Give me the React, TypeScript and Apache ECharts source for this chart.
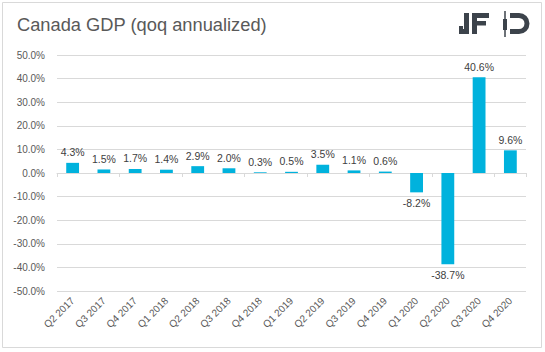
import React, { useEffect, useRef } from "react";
import * as echarts from "echarts";

const categories = [
  "Q2 2017", "Q3 2017", "Q4 2017", "Q1 2018", "Q2 2018", "Q3 2018", "Q4 2018",
  "Q1 2019", "Q2 2019", "Q3 2019", "Q4 2019", "Q1 2020", "Q2 2020", "Q3 2020", "Q4 2020",
];
const gdpValues = [4.3, 1.5, 1.7, 1.4, 2.9, 2.0, 0.3, 0.5, 3.5, 1.1, 0.6, -8.2, -38.7, 40.6, 9.6];
const titleText = "Canada GDP (qoq annualized)";

const FONT = "'Liberation Sans', Arial, sans-serif";

export default function App() {
  const ref = useRef<HTMLDivElement>(null);
  useEffect(() => {
    document.body.style.margin = "0";
    if (!ref.current) return;
    echarts.graphic.registerShape(
      "jfdD",
      echarts.graphic.extendPath(
        "M0 0 H9 A10.5 10.5 0 0 1 9 21 H0 V16 H9 A5.5 5.5 0 0 0 9 5 H0 Z",
        {}
      )
    );
    const chart = echarts.init(ref.current, null, { renderer: "svg" });
    const logoColor = "#3c434b";
    chart.setOption({
      animation: false,
      backgroundColor: "#ffffff",
      grid: { left: 57, right: 19, top: 55, bottom: 61 },
      xAxis: [
        {
          type: "category",
          data: categories,
          position: "bottom",
          axisLine: { show: false, onZero: false },
          axisTick: { show: false },
          axisLabel: {
            rotate: 45,
            color: "#595959",
            fontSize: 10,
            fontFamily: FONT,
            margin: 8,
            interval: 0,
          },
        },
        {
          type: "category",
          data: categories,
          position: "bottom",
          axisLine: { show: true, onZero: true, lineStyle: { color: "#d9d9d9", width: 1 } },
          axisTick: { show: true, length: 4, lineStyle: { color: "#d9d9d9" } },
          axisLabel: { show: false },
          splitLine: { show: false },
        },
      ],
      yAxis: {
        type: "value",
        min: -50,
        max: 50,
        interval: 10,
        axisLine: { show: false },
        axisTick: { show: false },
        axisLabel: {
          formatter: (v: number) => v.toFixed(1) + "%",
          color: "#595959",
          fontSize: 10,
          fontFamily: FONT,
          margin: 12,
        },
        splitLine: { lineStyle: { color: "#d9d9d9", width: 1 } },
      },
      series: [
        {
          type: "bar",
          xAxisIndex: 0,
          data: gdpValues.map((v) => ({
            value: v,
            label: { position: v < 0 ? "bottom" : "top" },
          })),
          barWidth: "41%",
          itemStyle: { color: "#00b2dd" },
          label: {
            show: true,
            formatter: (p: any) => p.value.toFixed(1) + "%",
            color: "#404040",
            fontSize: 10.5,
            fontFamily: FONT,
            distance: 5,
          },
        },
      ],
      graphic: [
        {
          type: "rect",
          shape: { x: 2.5, y: 2.5, width: 539, height: 345 },
          style: { fill: "none", stroke: "#d9d9d9", lineWidth: 1 },
          silent: true,
        },
        {
          type: "text",
          left: 17,
          top: 15,
          style: { text: titleText, fill: "#595959", fontSize: 18.3, fontFamily: FONT },
        },
        // JFD logo: J
        { type: "rect", shape: { x: 464, y: 13, width: 5, height: 21 }, style: { fill: logoColor } },
        { type: "rect", shape: { x: 459, y: 29, width: 10, height: 5 }, style: { fill: logoColor } },
        { type: "rect", shape: { x: 459, y: 26, width: 4, height: 6 }, style: { fill: logoColor } },
        // F
        { type: "rect", shape: { x: 472, y: 13, width: 5, height: 21 }, style: { fill: logoColor } },
        { type: "rect", shape: { x: 472, y: 13, width: 17, height: 5 }, style: { fill: logoColor } },
        { type: "rect", shape: { x: 472, y: 21, width: 14, height: 4.5 }, style: { fill: logoColor } },
        // candle
        { type: "line", shape: { x1: 505, y1: 11, x2: 505, y2: 37 }, style: { stroke: logoColor, lineWidth: 1.5 } },
        { type: "rect", shape: { x: 503, y: 19, width: 4, height: 11 }, style: { fill: logoColor } },
        // D
        { type: "jfdD", x: 510, y: 13, style: { fill: logoColor } },
      ],
    });
    return () => chart.dispose();
  }, []);
  return <div ref={ref} style={{ width: 545, height: 352 }} />;
}
